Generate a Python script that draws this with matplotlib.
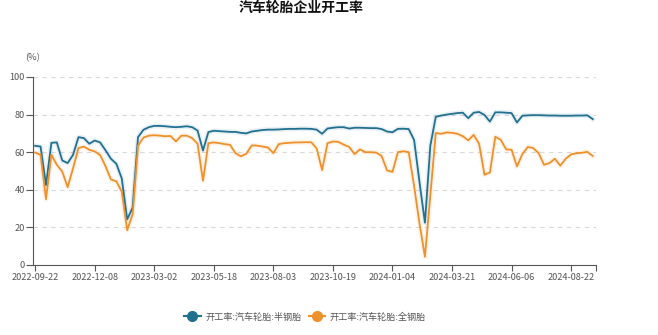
import numpy as np
import matplotlib
matplotlib.use("Agg")
import matplotlib.pyplot as plt
from matplotlib.lines import Line2D

plt.rcParams['font.family'] = ['Noto Sans CJK SC', 'DejaVu Sans']

# weekly operating rate, % (category axis, one point per week)
semi_steel = [
    63.4, 63.0, 42.5, 65.0, 65.2, 55.6, 54.2, 58.6, 68.0, 67.5,
    64.5, 66.2, 65.2, 61.0, 56.5, 53.8, 46.0, 24.3, 30.5, 68.0,
    71.9, 73.3, 74.0, 74.0, 73.8, 73.5, 73.3, 73.5, 73.8, 73.3,
    71.5, 60.9, 70.7, 71.4, 71.2, 71.0, 70.8, 70.8, 70.3, 70.0,
    71.0, 71.4, 71.8, 72.0, 72.0, 72.1, 72.3, 72.4, 72.4, 72.5,
    72.5, 72.4, 72.0, 69.8, 72.6, 73.0, 73.3, 73.3, 72.6, 73.0,
    73.0, 72.9, 72.8, 72.8, 72.3, 71.0, 70.6, 72.4, 72.5, 72.3,
    66.5, 44.0, 22.5, 63.5, 78.8, 79.5, 80.0, 80.4, 80.8, 81.0,
    78.1, 81.0, 81.4, 79.8, 76.3, 81.2, 81.2, 81.0, 80.8, 75.8,
    79.4, 79.6, 79.7, 79.7, 79.6, 79.5, 79.5, 79.4, 79.4, 79.4,
    79.5, 79.5, 79.6, 77.6,
]
all_steel = [
    59.8, 58.6, 35.0, 58.6, 53.3, 49.7, 41.4, 51.5, 62.2, 63.0,
    61.3, 60.4, 58.5, 52.5, 45.5, 44.5, 39.0, 18.5, 27.0, 63.5,
    67.8, 68.8, 69.0, 68.8, 68.5, 68.6, 65.7, 68.8, 68.8, 67.5,
    64.5, 44.8, 64.8, 65.2, 64.8, 64.3, 63.9, 59.5, 57.8, 59.2,
    63.6, 63.5, 63.0, 62.5, 59.5, 64.3, 64.8, 65.0, 65.2, 65.2,
    65.3, 65.3, 62.0, 50.5, 64.8, 65.7, 65.5, 64.0, 62.8, 59.0,
    61.5, 60.0, 60.0, 59.8, 58.0, 50.3, 49.5, 60.0, 60.5, 60.0,
    42.0, 22.0, 4.4, 37.0, 70.2, 69.8, 70.5, 70.3, 69.8, 68.5,
    66.3, 69.2, 64.5, 48.0, 49.2, 68.2, 66.6, 61.5, 61.3, 52.4,
    59.0, 62.8, 62.2, 59.5, 53.3, 54.2, 56.5, 52.8, 56.5, 58.8,
    59.5, 59.7, 60.2, 58.0,
]
tick_labels = ['2022-09-22', '2022-12-08', '2023-03-02', '2023-05-18', '2023-08-03',
               '2023-10-19', '2024-01-04', '2024-03-21', '2024-06-06', '2024-08-22']
series_names = ['开工率:汽车轮胎:半钢胎', '开工率:汽车轮胎:全钢胎']

BLUE = '#22708f'
ORANGE = '#f0902a'
AXIS = '#555555'

fig = plt.figure(figsize=(6.58, 3.35), dpi=100)
ax = fig.add_axes([33 / 658, 70 / 335, 563 / 658, 188 / 335])

x = np.arange(len(semi_steel))
for vals, col in [(semi_steel, BLUE), (all_steel, ORANGE)]:
    # soft halo under the line
    ax.plot(x, vals, color=col, lw=3.6, alpha=0.10, solid_joinstyle='round', zorder=2)
    ax.plot(x, vals, color=col, lw=1.3, solid_joinstyle='round', zorder=3)

ax.set_xlim(-0.4, len(semi_steel) - 0.4)
ax.set_ylim(0, 100)
ax.set_yticks([0, 20, 40, 60, 80, 100])
ax.set_xticks(np.arange(0, 11 * len(tick_labels), 11))
ax.set_xticklabels(tick_labels)
ax.set_xticks([len(semi_steel) - 0.4], minor=True)

for yv in [20, 40, 60, 80, 100]:
    ax.axhline(yv, color='#d9d9d9', lw=0.8, ls=(0, (4, 4)), zorder=1)

for s in ['top', 'right']:
    ax.spines[s].set_visible(False)
for s in ['left', 'bottom']:
    ax.spines[s].set_color(AXIS)
    ax.spines[s].set_linewidth(0.8)
ax.tick_params(axis='x', which='both', length=4, width=0.8, color=AXIS,
               labelsize=6.6, labelcolor='#555555', pad=2)
ax.tick_params(axis='y', length=5, width=0.8, color=AXIS,
               labelsize=6.6, labelcolor='#555555', pad=1)

fig.text(32 / 658, 1 - 58 / 335, '(%)', ha='center', va='center', fontsize=6.6, color='#555555')
fig.text(301 / 658, 1 - 8 / 335, '汽车轮胎企业开工率', ha='center', va='center',
         fontsize=10, fontweight='bold', color='#111111')

handles = [Line2D([], [], color=BLUE, lw=1.5, marker='o', ms=7),
           Line2D([], [], color=ORANGE, lw=1.5, marker='o', ms=7)]
fig.legend(handles, series_names, loc='center', bbox_to_anchor=(305 / 658, 1 - 317 / 335),
           ncol=2, frameon=False, fontsize=6.6, labelcolor='#555555',
           handlelength=1.8, handletextpad=0.5, columnspacing=0.8)

fig.savefig('out.png', dpi=100)
